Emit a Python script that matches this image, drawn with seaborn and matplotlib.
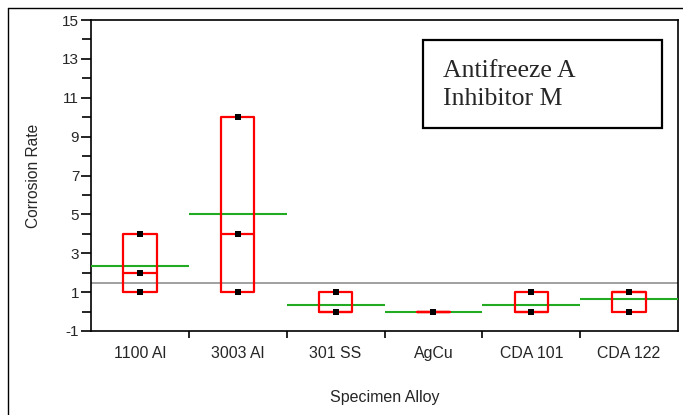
import numpy as np
import pandas as pd
import matplotlib
matplotlib.use('Agg')
from matplotlib import pyplot as plt
from matplotlib.lines import Line2D
from matplotlib.patches import Rectangle
import seaborn as sns

alloys = ['1100 Al', '3003 Al', '301 SS', 'AgCu', 'CDA 101', 'CDA 122']
rate_1100_al = [1, 2, 4]
rate_3003_al = [1, 4, 10]
rate_301_ss = [0, 0, 1]
rate_agcu = [0, 0, 0]
rate_cda_101 = [0, 0, 1]
rate_cda_122 = [0, 1, 1]

df = pd.DataFrame({
    'alloy': np.repeat(alloys, 3),
    'rate': np.concatenate([rate_1100_al, rate_3003_al, rate_301_ss,
                            rate_agcu, rate_cda_101, rate_cda_122]),
})

sns.set_style('ticks')
plt.rcParams['font.family'] = ['Liberation Sans', 'DejaVu Sans']
plt.rcParams['axes.unicode_minus'] = False

fig = plt.figure(figsize=(6.83, 4.15), dpi=100)
ax = fig.add_axes([91/683, 1 - 331/415, 587/683, 311/415])

# quantile boxes (JMP style quantiles, (n+1)p)
stats = []
for name, g in df.groupby('alloy', sort=False):
    v = g.rate.to_numpy()
    q1, med, q3 = np.quantile(v, [0.25, 0.5, 0.75], method='weibull')
    stats.append(dict(label=name, q1=q1, med=med, q3=q3, whislo=q1, whishi=q3, fliers=[]))
ax.bxp(stats, positions=range(len(alloys)), widths=0.34, showcaps=False,
       boxprops=dict(color='red', lw=1.6), medianprops=dict(color='red', lw=1.6),
       whiskerprops=dict(color='red', lw=0), manage_ticks=False, zorder=4)

# group means and grand mean
means = df.groupby('alloy', sort=False).rate.mean()
pos = np.arange(len(alloys))
ax.hlines(means.values, pos - 0.5, pos + 0.5, color='#22aa22', lw=1.5, zorder=3)
ax.axhline(df.rate.mean(), color='#999999', lw=1.3, zorder=2)

sns.stripplot(data=df, x='alloy', y='rate', jitter=False, marker='s', color='black',
              size=4, ax=ax, zorder=5)

ax.set_xlim(-0.5, 5.5)
ax.set_ylim(-1, 15)
ax.set_yticks(range(-1, 16, 2))
ax.set_yticks(range(0, 15, 2), minor=True)
ax.set_xticks(pos)
ax.set_xticklabels(alloys, fontsize=11.4)
ax.set_xticks(np.arange(0.5, 5, 1), minor=True)
ax.tick_params(axis='x', which='major', length=0, pad=11)
ax.tick_params(axis='x', which='minor', length=5, width=1.2, color='black')
ax.tick_params(axis='y', which='major', length=7, width=1.2, labelsize=11, pad=1.5,
               color='black')
ax.tick_params(axis='y', which='minor', length=6.5, width=1.2, color='black')
for s in ax.spines.values():
    s.set_linewidth(1.2)
    s.set_color('black')

ax.set_xlabel('Specimen Alloy', fontsize=11.5)
ax.set_ylabel('Corrosion Rate', fontsize=11.2)
ax.xaxis.set_label_coords(0.5, -0.19)
ax.yaxis.set_label_coords(-0.085, 0.5)

# annotation box
fig.add_artist(Rectangle((423/683, 1 - 128/415), 239/683, 88/415, transform=fig.transFigure,
                         fill=False, lw=1.6, ec='black'))
fig.text(443/683, 1 - 85/415, 'Antifreeze A\nInhibitor M', family=['Liberation Serif'],
         fontsize=18.5, va='center', ha='left', linespacing=1.3)

# outer frame (left and top)
fig.add_artist(Line2D([8/683, 8/683], [0, 1 - 8/415], color='black', lw=1))
fig.add_artist(Line2D([8/683, 1], [1 - 8/415, 1 - 8/415], color='black', lw=1))

fig.savefig('out.png', dpi=100)
